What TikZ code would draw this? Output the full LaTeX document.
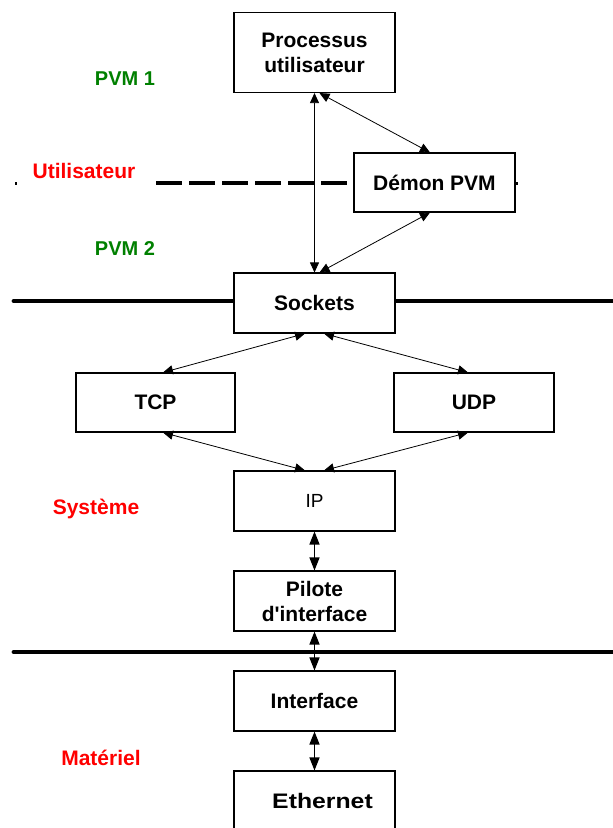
\documentclass[tikz,border=0pt]{standalone}
\usepackage{fontspec}
\setmainfont{Liberation Sans}
\usetikzlibrary{arrows.meta}

\begin{document}
\begin{tikzpicture}[x=1pt,y=-1pt,
  layer/.style={draw=black,line width=1.1pt,fill=white,inner sep=0pt,
    align=center,font=\fontsize{21}{25}\selectfont\bfseries},
  boxA/.style={layer,minimum width=161pt,minimum height=60pt},
  arr/.style={line width=0.8pt,{Triangle[length=10pt,width=9pt]}-{Triangle[length=10pt,width=9pt]}},
  sarr/.style={line width=1.3pt,{Triangle[length=13pt,width=10pt]}-{Triangle[length=13pt,width=10pt]}},
  sep/.style={line width=4.8pt,line cap=round},
  green label/.style={text=green!50!black,font=\fontsize{20}{24}\selectfont\bfseries},
  red label/.style={text=red,font=\fontsize{21}{25}\selectfont\bfseries}]

\useasboundingbox (0,0) rectangle (613,828);
\clip (0,0) rectangle (613,828);

% separator lines between the layers
\draw[sep] (14,301) -- (613,301);
\draw[sep] (14,652) -- (613,652);
\draw[line width=4pt,dash pattern=on 26pt off 7pt] (156,183) -- (356,183);
\fill (15,181.5) rectangle (16.5,185);
\fill (516,182) rectangle (518,185);

% layer boxes
\node[layer,minimum width=161pt,minimum height=80pt] (proc) at (314.5,52.5) {Processus\\utilisateur};
\node[layer,minimum width=161pt,minimum height=59pt] (demon) at (434.5,182.5) {Démon PVM};
\node[boxA] (sockets) at (314.5,303) {Sockets};
\node[layer,minimum width=159pt,minimum height=59pt] (tcp) at (155.5,402.5) {TCP};
\node[layer,minimum width=160pt,minimum height=59pt] (udp) at (474,402.5) {UDP};
\node[boxA,font=\fontsize{19}{22}\selectfont] (ip) at (314.5,501) {IP};
\node[boxA] (pilote) at (314.5,601) {Pilote\\d\textquotesingle interface};
\node[boxA] (iface) at (314.5,701) {Interface};
\node[boxA] (eth) at (314.5,801) {\hspace*{16pt}\scalebox{1.18}[1]{Ethernet}};

% layer labels
\node[green label] (pvm1) at (125,79) {PVM 1};
\node[red label] (user) at (84,171) {Utilisateur};
\node[green label] (pvm2) at (125,249) {PVM 2};
\node[red label] (sys) at (96,509) {Système};
\node[red label] (hw) at (101,758) {Matériel};

% connections
\draw[arr] (proc.south) -- (sockets.north);
\draw[arr] ([xshift=5pt]proc.south) -- ([xshift=-4.5pt]demon.north);
\draw[arr] ([xshift=-4.5pt]demon.south) -- ([xshift=5pt]sockets.north);
\draw[arr] ([xshift=-9.5pt]sockets.south) -- ([xshift=7.5pt]tcp.north);
\draw[arr] ([xshift=9.5pt]sockets.south) -- ([xshift=-6pt]udp.north);
\draw[arr] ([xshift=7.5pt]tcp.south) -- ([xshift=-9.5pt]ip.north);
\draw[arr] ([xshift=-6pt]udp.south) -- ([xshift=9.5pt]ip.north);
\draw[sarr] (ip.south) -- (pilote.north);
\draw[sarr] (pilote.south) -- (iface.north);
\draw[sarr] (iface.south) -- (eth.north);
\end{tikzpicture}
\end{document}
